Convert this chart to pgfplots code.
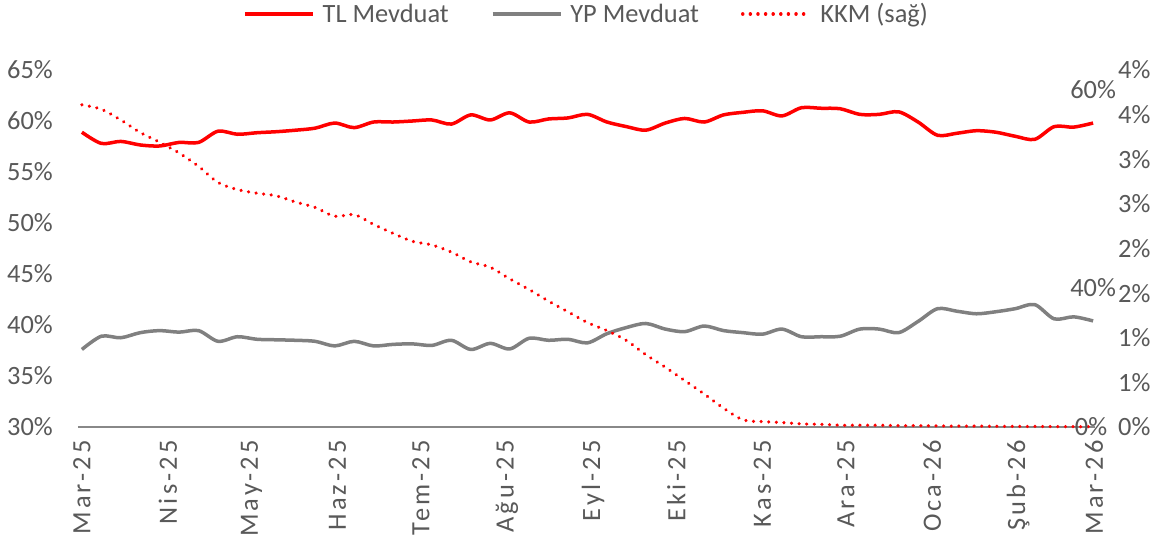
\documentclass[border=0pt]{standalone}
\usepackage{pgfplots}
\pgfplotsset{compat=1.18}
\usepackage{pgfplotstable}
\usepackage{fontspec}
\setmainfont{Carlito}
\definecolor{tlred}{HTML}{FF0000}
\definecolor{ypgray}{HTML}{808080}
\definecolor{txtgray}{HTML}{595959}
\definecolor{axgray}{HTML}{888888}

\pgfplotstableread{
w tl yp kkm
0 58.9 37.6 3.61
1 57.8 38.9 3.56
2 58.0 38.75 3.44
3 57.65 39.25 3.30
4 57.55 39.45 3.19
5 57.9 39.3 3.07
6 57.9 39.45 2.92
7 59.0 38.4 2.74
8 58.7 38.85 2.66
9 58.85 38.6 2.62
10 58.95 38.55 2.59
11 59.1 38.5 2.52
12 59.3 38.4 2.46
13 59.8 37.95 2.36
14 59.35 38.4 2.38
15 59.9 37.95 2.27
16 59.9 38.1 2.17
17 60.0 38.15 2.08
18 60.1 38.0 2.04
19 59.7 38.5 1.96
20 60.6 37.6 1.85
21 60.1 38.2 1.79
22 60.8 37.65 1.66
23 59.9 38.7 1.54
24 60.2 38.5 1.41
25 60.3 38.6 1.29
26 60.65 38.25 1.17
27 59.9 39.15 1.08
28 59.45 39.75 0.97
29 59.1 40.15 0.81
30 59.8 39.6 0.67
31 60.25 39.35 0.52
32 59.9 39.9 0.37
33 60.6 39.45 0.21
34 60.85 39.25 0.08
35 61.0 39.1 0.06
36 60.5 39.6 0.05
37 61.3 38.85 0.035
38 61.25 38.85 0.03
39 61.2 38.9 0.02
40 60.65 39.6 0.02
41 60.65 39.6 0.02
42 60.9 39.25 0.015
43 59.9 40.35 0.015
44 58.6 41.6 0.012
45 58.8 41.35 0.01
46 59.05 41.1 0.01
47 58.9 41.3 0.008
48 58.5 41.6 0.007
49 58.2 42.0 0.006
50 59.45 40.6 0.005
51 59.4 40.8 0.004
52 59.8 40.4 0.003
}\data

\pgfplotsset{
  basestyle/.style={
    scale only axis, width=1017bp, height=357bp,
    xmin=-0.2, xmax=52.1, clip=false,
    major tick length=0pt,
    tick label style={font=\fontsize{26.5}{30}\selectfont, text=txtgray},
    every axis plot/.append style={smooth, tension=0.5},
  },
  kkmstyle/.style={tlred, line width=3.5bp, line cap=round, dash pattern=on 0.01bp off 7.6bp},
}

\begin{document}
\begin{tikzpicture}
\begin{axis}[basestyle, name=main,
  ymin=30, ymax=65,
  ytick={30,35,...,65},
  yticklabels={30\%,35\%,40\%,45\%,50\%,55\%,60\%,65\%},
  y tick label style={inner sep=0pt, anchor=east},
  yticklabel shift=25bp,
  xtick={0,4.4286,8.7143,13.1429,17.4286,21.8571,26.2857,30.5714,35,39.2857,43.7143,48.1429,52.05},
  xticklabels={Mar-25,Nis-25,May-25,Haz-25,Tem-25,Ağu-25,Eyl-25,Eki-25,Kas-25,Ara-25,Oca-26,Şub-26,Mar-26},
  x tick label style={rotate=90, anchor=east, inner sep=0pt,
    font=\fontsize{26.5}{30}\selectfont\addfontfeatures{LetterSpace=12}},
  xticklabel shift=13bp,
  axis x line*=bottom, axis y line*=left,
  x axis line style={-, draw=axgray, line width=2bp},
  y axis line style={draw=none},
  legend style={at={(0.5,1)}, anchor=center, yshift=56bp, draw=none, fill=none,
    font=\fontsize{26.5}{30}\selectfont, text=txtgray,
    legend columns=-1,
    /tikz/every odd column/.append style={column sep=6bp},
    /tikz/every even column/.append style={column sep=40bp},
    legend cell align=left},
  legend image code/.code={\draw[#1] (0bp,0bp) -- (68bp,0bp);},
]
\coordinate (sw) at (rel axis cs:0,0);
\addplot[tlred, line width=3.5bp, no markers] table[x=w, y=tl] {\data};
\addlegendentry{TL Mevduat}
\addplot[ypgray, line width=3.5bp, no markers] table[x=w, y=yp] {\data};
\addlegendentry{YP Mevduat}
\addlegendimage{kkmstyle}
\addlegendentry{KKM (sağ)}
\node[text=txtgray, font=\fontsize{26.5}{30}\selectfont, anchor=center, yshift=33bp] at (axis cs:52,59.8) {60\%};
\node[text=txtgray, font=\fontsize{26.5}{30}\selectfont, anchor=center, yshift=33bp] at (axis cs:52,40.4) {40\%};
\end{axis}
\begin{axis}[basestyle,
  ymin=0, ymax=4,
  ytick={0,0.5,...,4},
  yticklabels={0\%,1\%,1\%,2\%,2\%,3\%,3\%,4\%,4\%},
  y tick label style={inner sep=0pt, anchor=west},
  yticklabel shift=23bp,
  axis y line*=right, axis x line=none,
  y axis line style={draw=none},
]
\addplot[kkmstyle, no markers] table[x=w, y=kkm] {\data};
\node[text=txtgray, font=\fontsize{26.5}{30}\selectfont, anchor=center, xshift=-2bp] at (axis cs:52,0) {0\%};
\end{axis}
\pgfresetboundingbox
\path (sw) ++(-78bp,-108bp) rectangle ++(1154bp,535bp);
\end{tikzpicture}
\end{document}
